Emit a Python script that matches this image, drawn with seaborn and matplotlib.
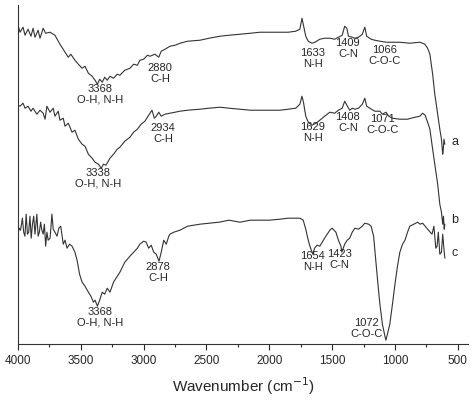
import matplotlib
matplotlib.use("Agg")
import matplotlib.pyplot as plt
import seaborn as sns
import pandas as pd
from matplotlib.ticker import MultipleLocator

sns.set_style("ticks")
plt.rcParams['font.family'] = ['Liberation Sans', 'DejaVu Sans']

a_pts = [(4000,319),(3984,312),(3960,317),(3944,309),(3920,315),(3897,308),(3880,316),(3865,307),(3840,314),(3825,306),(3800,316),(3780,311),(3745,312),(3706,309),(3666,300),(3626,292),(3600,287),(3580,290),(3547,284),(3520,280),(3490,276),(3467,278),(3440,271),(3410,268),(3387,264),(3368,260),(3350,265),(3330,262),(3310,267),(3290,264),(3268,268),(3240,266),(3210,270),(3189,269),(3150,274),(3109,276),(3080,280),(3050,279),(3030,284),(3000,285),(2970,289),(2950,288),(2910,290),(2880,287),(2860,293),(2830,295),(2791,298),(2750,299),(2711,301),(2650,303),(2552,304),(2480,306),(2393,308),(2320,309),(2234,310),(2150,311),(2075,312),(2000,312),(1916,312),(1850,312),(1790,313),(1757,315),(1740,326),(1730,320),(1710,308),(1690,303),(1660,301),(1637,302),(1598,305),(1560,306),(1518,306),(1480,305),(1450,307),(1420,309),(1400,318),(1383,316),(1370,308),(1340,307),(1319,306),(1290,307),(1260,310),(1240,317),(1225,308),(1190,305),(1160,304),(1120,303),(1066,302),(1041,302),(961,302),(882,301),(802,302),(780,301),(762,300),(740,296),(722,290),(700,270),(683,250),(660,230),(643,215),(630,205),(620,190),(615,195),(610,205),(603,200)]
b_pts = [(4000,239),(3984,238),(3960,241),(3944,236),(3920,238),(3897,233),(3880,236),(3850,230),(3825,234),(3800,231),(3785,225),(3770,238),(3745,232),(3720,236),(3706,228),(3680,233),(3666,224),(3640,226),(3626,218),(3600,221),(3570,212),(3547,214),(3520,205),(3490,200),(3467,198),(3440,190),(3410,186),(3387,182),(3360,180),(3338,176),(3320,180),(3300,179),(3268,186),(3240,190),(3210,195),(3189,197),(3150,203),(3109,207),(3080,212),(3050,215),(3020,220),(2990,223),(2960,229),(2934,234),(2915,226),(2900,228),(2880,232),(2860,228),(2830,230),(2791,231),(2750,232),(2711,233),(2650,234),(2552,235),(2480,236),(2393,237),(2320,236),(2234,235),(2150,234),(2075,234),(2000,234),(1916,234),(1850,235),(1790,236),(1757,240),(1740,248),(1728,242),(1710,228),(1690,222),(1660,219),(1629,221),(1598,224),(1560,228),(1518,232),(1480,231),(1450,234),(1420,236),(1400,243),(1383,239),(1360,234),(1340,236),(1319,235),(1290,236),(1260,240),(1240,246),(1225,238),(1200,236),(1160,233),(1120,233),(1100,230),(1071,232),(1050,228),(1020,226),(961,225),(900,225),(840,227),(802,228),(780,231),(760,229),(740,222),(722,215),(700,195),(683,180),(660,160),(643,140),(630,132),(620,120),(614,128),(608,115),(603,120)]
c_pts = [(4000,111),(3990,116),(3980,114),(3965,126),(3955,112),(3945,108),(3935,130),(3925,110),(3915,112),(3905,128),(3895,106),(3885,120),(3875,128),(3865,110),(3850,130),(3840,108),(3830,112),(3820,122),(3810,114),(3800,110),(3790,120),(3780,98),(3770,112),(3760,104),(3745,106),(3730,130),(3720,115),(3706,112),(3690,108),(3675,116),(3660,118),(3640,100),(3626,104),(3610,96),(3590,100),(3570,98),(3547,92),(3530,84),(3510,70),(3490,62),(3467,58),(3440,52),(3420,48),(3400,42),(3387,44),(3368,38),(3350,44),(3330,52),(3310,50),(3290,56),(3268,52),(3240,62),(3210,68),(3189,72),(3150,82),(3109,88),(3080,92),(3050,96),(3030,100),(3000,103),(2980,102),(2960,96),(2940,99),(2920,92),(2900,90),(2878,83),(2860,92),(2840,104),(2820,100),(2800,108),(2791,110),(2760,112),(2711,114),(2650,118),(2600,119),(2552,120),(2480,121),(2400,122),(2320,124),(2234,122),(2150,124),(2075,124),(2000,124),(1916,125),(1850,126),(1780,126),(1757,126),(1730,124),(1710,115),(1690,104),(1677,98),(1654,90),(1640,96),(1620,99),(1598,98),(1560,106),(1518,114),(1500,116),(1470,112),(1450,104),(1430,98),(1423,92),(1400,100),(1380,104),(1360,106),(1340,112),(1319,116),(1290,115),(1260,118),(1240,121),(1210,120),(1190,118),(1170,108),(1150,80),(1137,62),(1120,40),(1100,20),(1080,8),(1072,4),(1060,10),(1041,20),(1020,40),(1000,60),(980,78),(961,92),(940,100),(920,104),(900,112),(882,118),(850,120),(820,122),(800,120),(780,121),(760,118),(740,115),(720,112),(705,110),(690,118),(675,96),(665,98),(655,112),(643,90),(630,92),(620,110),(610,95),(603,86)]

annotations = [
    ("3368\nO-H, N-H", 3348, 260), ("2880\nC-H", 2870, 281), ("1633\nN-H", 1653, 296),
    ("1409\nC-N", 1375, 306), ("1066\nC-O-C", 1081, 299),
    ("3338\nO-H, N-H", 3364, 176), ("2934\nC-H", 2847, 221), ("1629\nN-H", 1653, 222),
    ("1408\nC-N", 1375, 232), ("1071\nC-O-C", 1097, 230),
    ("3368\nO-H, N-H", 3348, 37), ("2878\nC-H", 2886, 82), ("1654\nN-H", 1653, 93),
    ("1423\nC-N", 1439, 95), ("1072\nC-O-C", 1224, 26),
]
series_labels = [("a", 524, 202), ("b", 524, 124), ("c", 524, 91)]

fig = plt.figure(figsize=(4.74, 4.03), dpi=100)
ax = fig.add_axes([0.038, 0.146, 0.949, 0.841])
for name, pts in [("a", a_pts), ("b", b_pts), ("c", c_pts)]:
    df = pd.DataFrame(pts, columns=["w", "t"])
    sns.lineplot(data=df, x="w", y="t", ax=ax, color="#333333", lw=0.8, sort=False)

for txt, x, y in annotations:
    ax.text(x, y, txt, ha="center", va="top", fontsize=8, linespacing=1.05)
for txt, x, y in series_labels:
    ax.text(x, y, txt, ha="center", va="center", fontsize=9)

ax.set_xlim(4000, 420)
ax.set_ylim(0, 339)
ax.set_yticks([])
ax.xaxis.set_major_locator(MultipleLocator(500))
ax.xaxis.set_minor_locator(MultipleLocator(250))
ax.tick_params(axis="x", which="major", length=4, width=0.8, labelsize=8.5, direction="out")
ax.tick_params(axis="x", which="minor", length=2.5, width=0.8, direction="out")
ax.set_ylabel("")
ax.set_xlabel("Wavenumber (cm$^{-1}$)", fontsize=11, labelpad=6)
sns.despine(ax=ax)
for s in ["left", "bottom"]:
    ax.spines[s].set_linewidth(0.8)
    ax.spines[s].set_color("#333333")
fig.savefig("out.png", dpi=100)
